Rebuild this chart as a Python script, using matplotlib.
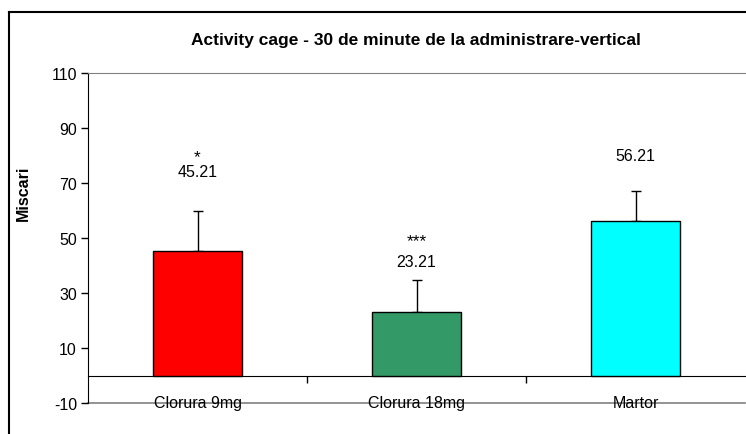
import matplotlib.pyplot as plt
from matplotlib.lines import Line2D

plt.rcParams['font.family'] = ['Liberation Sans', 'DejaVu Sans']
plt.rcParams['axes.unicode_minus'] = False

# date grafic
grupe = ["Clorura 9mg", "Clorura 18mg", "Martor"]
medii = [45.21, 23.21, 56.21]
erori = [14.5, 11.4, 10.8]
semnif = ["*", "***", ""]
culori = ["#FF0000", "#339966", "#00FFFF"]
yticks = [110, 90, 70, 50, 30, 10, -10]

fig = plt.figure(figsize=(7.46, 4.35), dpi=100)
ax = fig.add_axes([88/746, 1 - 404/435, 657/746, 330/435])

x = list(range(len(grupe)))
ax.bar(x, medii, width=0.41, color=culori, edgecolor="black", linewidth=1.0,
       zorder=3)
ax.errorbar(x, medii, yerr=[[0]*len(erori), erori], fmt="none", ecolor="black",
            elinewidth=1.0, capsize=3.3, capthick=1.0, zorder=2)

# etichete cu valorile medii si semnificatia (pozitii in unitati de date)
poz_valoare = [74.1, 41.5, 80.0]
poz_stea = [77.0, 46.5, None]
for xi, m, s, yv, ys in zip(x, medii, semnif, poz_valoare, poz_stea):
    ax.text(xi, yv, f"{m:.2f}", ha="center", va="center", fontsize=11.5)
    if s:
        ax.text(xi, ys, s, ha="center", va="bottom", fontsize=12.5)

ax.set_xlim(-0.5, 2.5)
ax.set_ylim(-10, 110)
ax.set_yticks(yticks)
ax.tick_params(axis="y", direction="out", length=5, width=1, labelsize=11.5,
               pad=3)

# axa x trece prin zero
ax.spines["bottom"].set_position(("data", 0))
ax.spines["bottom"].set_color("black")
ax.spines["left"].set_color("black")
ax.spines["right"].set_visible(False)
ax.spines["top"].set_color("#808080")
ax.axhline(-10, color="#808080", linewidth=1.2, zorder=1, clip_on=False)

ax.set_xticks(x)
ax.set_xticklabels(grupe)
ax.set_xticks([0.5, 1.5], minor=True)
ax.tick_params(axis="x", which="major", length=0, labelsize=11.5, pad=14)
ax.tick_params(axis="x", which="minor", direction="out", length=5, width=1)

fig.text(23.5/746, 1 - 193/435, "Miscari", rotation=90, ha="center",
         va="center", fontsize=11.5, fontweight="bold")
fig.text(416/746, 1 - 40/435, "Activity cage - 30 de minute de la administrare-vertical",
         ha="center", va="center", fontsize=12.5, fontweight="bold")

# chenarul graficului
fig.add_artist(Line2D([9/746, 9/746], [0, 1 - 13/435], color="black",
                      linewidth=1.5, transform=fig.transFigure))
fig.add_artist(Line2D([9/746, 1], [1 - 13/435, 1 - 13/435], color="black",
                      linewidth=1.5, transform=fig.transFigure))

fig.savefig("out.png", dpi=100)
